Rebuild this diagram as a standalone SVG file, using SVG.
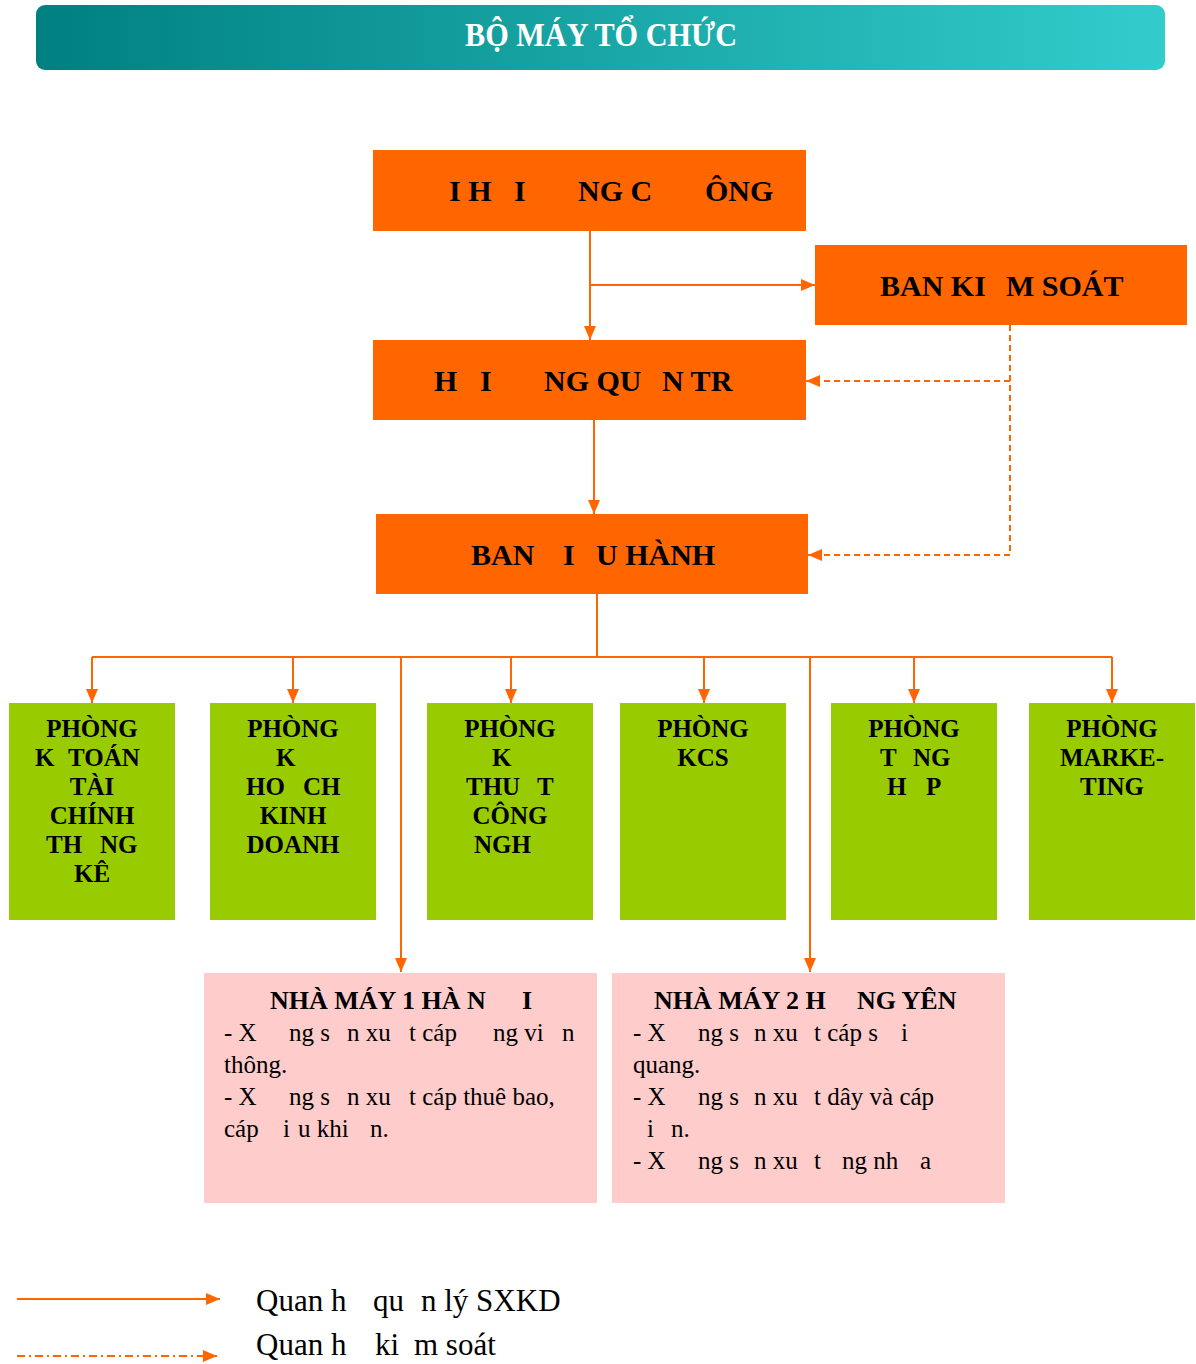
<svg xmlns="http://www.w3.org/2000/svg" width="1196" height="1364" viewBox="0 0 1196 1364">
<style>
.o{fill:#FF6600}
.g{fill:#99CC00}
.p{fill:#FFCCCC}
.t{font-family:"Liberation Serif","Times New Roman",serif;font-weight:bold;font-size:30px;fill:#000}
.gt{font-family:"Liberation Serif","Times New Roman",serif;font-weight:bold;font-size:25px;fill:#000}
.pt{font-family:"Liberation Serif","Times New Roman",serif;font-weight:bold;font-size:26px;fill:#000}
.pb{font-family:"Liberation Serif","Times New Roman",serif;font-size:25px;fill:#000}
.lg{font-family:"Liberation Serif","Times New Roman",serif;font-size:31px;fill:#000}
.c{text-anchor:middle}
.ln{stroke:#FF6600;stroke-width:2;fill:none}
.ds{stroke-dasharray:6 4}
</style>
<defs>
<linearGradient id="hg" x1="0" y1="0" x2="1" y2="0">
<stop offset="0" stop-color="#008080"/>
<stop offset="1" stop-color="#33CCCC"/>
</linearGradient>
<marker id="ah" markerWidth="14" markerHeight="12" refX="14" refY="6" orient="auto" markerUnits="userSpaceOnUse">
<path d="M0,0 L14,6 L0,12 z" fill="#FF6600"/>
</marker>
</defs>

<g id="header">
<rect x="36" y="5" width="1129" height="65" rx="9" fill="url(#hg)"/>
<text x="601" y="46" class="c" font-family="Liberation Serif, serif" font-weight="bold" font-size="34" fill="#fff" textLength="272" lengthAdjust="spacingAndGlyphs">BỘ MÁY TỔ CHỨC</text>
</g>

<g id="connectors">
<path class="ln" d="M590,231 V340" marker-end="url(#ah)"/>
<path class="ln" d="M590,285 H815" marker-end="url(#ah)"/>
<path class="ln" d="M594,420 V514" marker-end="url(#ah)"/>
<path class="ln ds" d="M1010,325 V555"/>
<path class="ln ds" d="M1010,381 H806" marker-end="url(#ah)"/>
<path class="ln ds" d="M1010,555 H808" marker-end="url(#ah)"/>
<path class="ln" d="M597,594 V657 M92,657 H1112"/>
<path class="ln" d="M92,657 V703" marker-end="url(#ah)"/>
<path class="ln" d="M293,657 V703" marker-end="url(#ah)"/>
<path class="ln" d="M511,657 V703" marker-end="url(#ah)"/>
<path class="ln" d="M704,657 V703" marker-end="url(#ah)"/>
<path class="ln" d="M914,657 V703" marker-end="url(#ah)"/>
<path class="ln" d="M1112,657 V703" marker-end="url(#ah)"/>
<path class="ln" d="M401,657 V972" marker-end="url(#ah)"/>
<path class="ln" d="M810,657 V972" marker-end="url(#ah)"/>
</g>

<g id="dhdcd">
<rect class="o" x="373" y="150" width="433" height="81"/>
<text class="t" y="201"><tspan x="449">I H</tspan><tspan x="514">I</tspan><tspan x="578">NG C</tspan><tspan x="705">ÔNG</tspan></text>
</g>
<g id="bks">
<rect class="o" x="815" y="245" width="372" height="80"/>
<text class="t" y="296"><tspan x="880">BAN KI</tspan><tspan x="1006">M SOÁT</tspan></text>
</g>
<g id="hdqt">
<rect class="o" x="373" y="340" width="433" height="80"/>
<text class="t" y="391"><tspan x="434">H</tspan><tspan x="480">I</tspan><tspan x="544">NG QU</tspan><tspan x="662">N TR</tspan></text>
</g>
<g id="bdh">
<rect class="o" x="376" y="514" width="432" height="80"/>
<text class="t" y="565"><tspan x="471">BAN</tspan><tspan x="563">I</tspan><tspan x="596">U HÀNH</tspan></text>
</g>

<g id="p1">
<rect class="g" x="9" y="703" width="166" height="217"/>
<text class="gt c" x="92" y="737">PHÒNG</text>
<text class="gt" y="766"><tspan x="35">K</tspan><tspan x="68">TOÁN</tspan></text>
<text class="gt c" x="92" y="795">TÀI</text>
<text class="gt c" x="92" y="824">CHÍNH</text>
<text class="gt" y="853"><tspan x="46">TH</tspan><tspan x="100">NG</tspan></text>
<text class="gt c" x="92" y="882">KÊ</text>
</g>
<g id="p2">
<rect class="g" x="210" y="703" width="166" height="217"/>
<text class="gt c" x="293" y="737">PHÒNG</text>
<text class="gt" x="276" y="766">K</text>
<text class="gt" y="795"><tspan x="246">HO</tspan><tspan x="303">CH</tspan></text>
<text class="gt c" x="293" y="824">KINH</text>
<text class="gt c" x="293" y="853">DOANH</text>
</g>
<g id="p3">
<rect class="g" x="427" y="703" width="166" height="217"/>
<text class="gt c" x="510" y="737">PHÒNG</text>
<text class="gt" x="492" y="766">K</text>
<text class="gt" y="795"><tspan x="466">THU</tspan><tspan x="537">T</tspan></text>
<text class="gt c" x="510" y="824">CÔNG</text>
<text class="gt" x="474" y="853">NGH</text>
</g>
<g id="p4">
<rect class="g" x="620" y="703" width="166" height="217"/>
<text class="gt c" x="703" y="737">PHÒNG</text>
<text class="gt c" x="703" y="766">KCS</text>
</g>
<g id="p5">
<rect class="g" x="831" y="703" width="166" height="217"/>
<text class="gt c" x="914" y="737">PHÒNG</text>
<text class="gt" y="766"><tspan x="880">T</tspan><tspan x="913">NG</tspan></text>
<text class="gt" y="795"><tspan x="887">H</tspan><tspan x="926">P</tspan></text>
</g>
<g id="p6">
<rect class="g" x="1029" y="703" width="166" height="217"/>
<text class="gt c" x="1112" y="737">PHÒNG</text>
<text class="gt c" x="1112" y="766">MARKE-</text>
<text class="gt c" x="1112" y="795">TING</text>
</g>

<g id="nm1">
<rect class="p" x="204" y="973" width="393" height="230"/>
<text class="pt" y="1009"><tspan x="270">NHÀ MÁY 1 HÀ N</tspan><tspan x="522">I</tspan></text>
<text class="pb" y="1041"><tspan x="224">- X</tspan><tspan x="289">ng s</tspan><tspan x="347">n xu</tspan><tspan x="409">t cáp</tspan><tspan x="493">ng vi</tspan><tspan x="562">n</tspan></text>
<text class="pb" x="224" y="1073">thông.</text>
<text class="pb" y="1105"><tspan x="224">- X</tspan><tspan x="289">ng s</tspan><tspan x="347">n xu</tspan><tspan x="409">t cáp thuê bao,</tspan></text>
<text class="pb" y="1137"><tspan x="224">cáp</tspan><tspan x="283">i</tspan><tspan x="298">u khi</tspan><tspan x="370">n.</tspan></text>
</g>
<g id="nm2">
<rect class="p" x="612" y="973" width="393" height="230"/>
<text class="pt" y="1009"><tspan x="654">NHÀ MÁY 2 H</tspan><tspan x="857">NG YÊN</tspan></text>
<text class="pb" y="1041"><tspan x="633">- X</tspan><tspan x="698">ng s</tspan><tspan x="754">n xu</tspan><tspan x="814">t cáp s</tspan><tspan x="901">i</tspan></text>
<text class="pb" x="633" y="1073">quang.</text>
<text class="pb" y="1105"><tspan x="633">- X</tspan><tspan x="698">ng s</tspan><tspan x="754">n xu</tspan><tspan x="814">t dây và cáp</tspan></text>
<text class="pb" y="1137"><tspan x="647">i</tspan><tspan x="671">n.</tspan></text>
<text class="pb" y="1169"><tspan x="633">- X</tspan><tspan x="698">ng s</tspan><tspan x="754">n xu</tspan><tspan x="814">t</tspan><tspan x="842">ng nh</tspan><tspan x="920">a</tspan></text>
</g>

<g id="legend">
<path class="ln" d="M17,1299 H220" marker-end="url(#ah)"/>
<path class="ln" d="M17,1356 H217" stroke-dasharray="8 4 2 4" marker-end="url(#ah)"/>
<text class="lg" y="1311"><tspan x="256">Quan h</tspan><tspan x="373">qu</tspan><tspan x="421">n lý SXKD</tspan></text>
<text class="lg" y="1355"><tspan x="256">Quan h</tspan><tspan x="375">ki</tspan><tspan x="414">m soát</tspan></text>
</g>
</svg>
